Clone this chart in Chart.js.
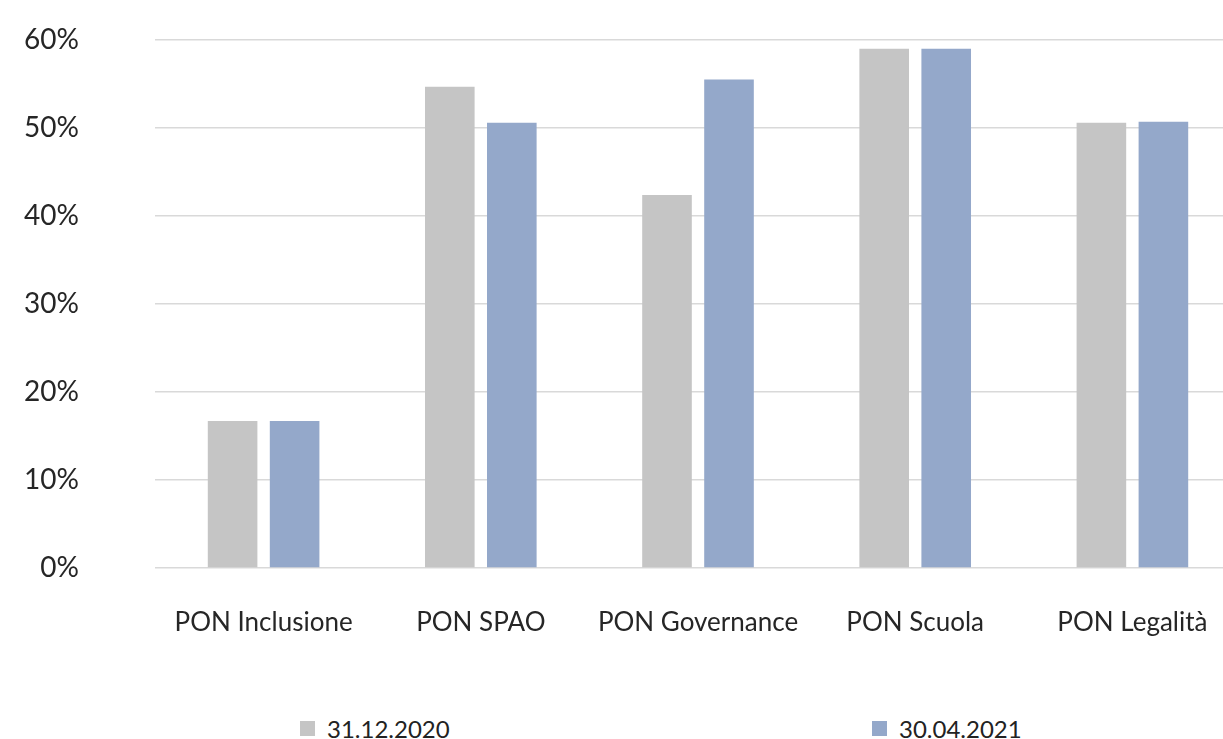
<!DOCTYPE html>
<html>
<head>
<meta charset="utf-8">
<script src="https://cdn.jsdelivr.net/npm/chart.js@4"></script>
<style>
  html, body { margin: 0; padding: 0; background: #fff; overflow: hidden; width: 1223px; height: 739px; }
  #wrap { position: absolute; left: 0; top: 0; width: 1241px; height: 700px; }
  #legend { position: absolute; left: 0; top: 714px; width: 1241px; height: 40px; font-family: Lato, sans-serif; font-size: 24px; color: #222; }
  .item { position: absolute; top: 0; display: flex; align-items: center; white-space: nowrap; }
  .box { width: 15px; height: 15px; margin-right: 12px; }
</style>
</head>
<body>
<div id="wrap"><canvas id="c"></canvas></div>
<div id="legend"></div>
<script>
const categories = ["PON Inclusione", "PON SPAO", "PON Governance", "PON Scuola", "PON Legalità"];
const seriesNames = ["31.12.2020", "30.04.2021"];
const values2020 = [16.7, 54.7, 42.4, 59.0, 50.6];
const values2021 = [16.7, 50.6, 55.5, 59.0, 50.7];
const yTicks = [0, 10, 20, 30, 40, 50, 60];
const colors = ["#C5C5C5", "#94A8CA"];
const legendLeft = [300, 872];

const chart = new Chart(document.getElementById('c'), {
  type: 'bar',
  data: {
    labels: categories,
    datasets: [
      { label: seriesNames[0], data: values2020, backgroundColor: colors[0], categoryPercentage: 0.571, barPercentage: 0.8 },
      { label: seriesNames[1], data: values2021, backgroundColor: colors[1], categoryPercentage: 0.571, barPercentage: 0.8 }
    ]
  },
  options: {
    responsive: true,
    maintainAspectRatio: false,
    animation: false,
    layout: { padding: { top: 40, right: 0, bottom: 0, left: 0 } },
    plugins: { legend: { display: false }, tooltip: { enabled: false } },
    scales: {
      x: {
        grid: { display: false },
        border: { display: false },
        ticks: { font: { family: 'Lato', size: 26 }, color: '#262626', padding: 31, maxRotation: 0, autoSkip: false },
        afterFit: s => { s.height = 700 - 568; }
      },
      y: {
        min: 0, max: 60,
        afterBuildTicks: s => { s.ticks = yTicks.map(v => ({ value: v })); },
        grid: { color: '#D9D9D9', lineWidth: 1.5, drawTicks: false },
        border: { display: false },
        ticks: { font: { family: 'Lato', size: 28 }, color: '#262626', padding: 76, callback: v => v + '%' },
        afterFit: s => { s.width = 155; s.paddingTop = 0; s.paddingBottom = 0; }
      }
    }
  }
});

const legendEl = document.getElementById('legend');
chart.data.datasets.forEach((ds, i) => {
  const it = document.createElement('div');
  it.className = 'item';
  it.style.left = legendLeft[i] + 'px';
  const b = document.createElement('span');
  b.className = 'box';
  b.style.background = ds.backgroundColor;
  const t = document.createElement('span');
  t.textContent = ds.label;
  it.appendChild(b); it.appendChild(t);
  legendEl.appendChild(it);
});
</script>
</body>
</html>
